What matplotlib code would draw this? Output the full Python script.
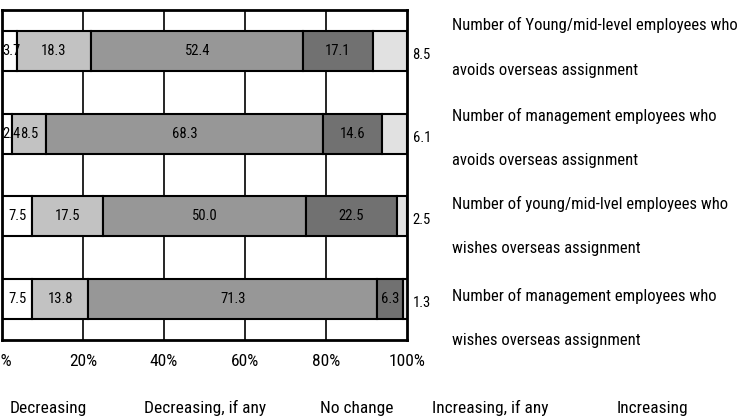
import matplotlib
matplotlib.use('Agg')
from matplotlib import pyplot as plt
from matplotlib import font_manager

# prefer a narrow sans face when one is installed
installed = {f.name for f in font_manager.fontManager.ttflist}
narrow = [n for n in ['Liberation Sans Narrow', 'Arial Narrow', 'Roboto Condensed',
                      'Open Sans Condensed', 'DejaVu Sans Condensed'] if n in installed]
plt.rcParams['font.family'] = narrow + ['DejaVu Sans']
plt.rcParams['font.stretch'] = 'condensed'

categories = [
    ('Number of Young/mid-level employees who', 'avoids overseas assignment'),
    ('Number of management employees who', 'avoids overseas assignment'),
    ('Number of young/mid-lvel employees who', 'wishes overseas assignment'),
    ('Number of management employees who', 'wishes overseas assignment'),
]
series_names = ['Decreasing', 'Decreasing, if any', 'No change', 'Increasing, if any', 'Increasing']
decreasing = [3.7, 2.4, 7.5, 7.5]
decreasing_if_any = [18.3, 8.5, 17.5, 13.8]
no_change = [52.4, 68.3, 50.0, 71.3]
increasing_if_any = [17.1, 14.6, 22.5, 6.3]
increasing = [8.5, 6.1, 2.5, 1.3]
tick_labels = ['0%', '20%', '40%', '60%', '80%', '100%']

colors = ['#ffffff', '#c2c2c2', '#979797', '#717171', '#e1e1e1']
W, H = 741, 419

fig = plt.figure(figsize=(W / 100, H / 100), dpi=100)
ax = fig.add_axes([2 / W, 1 - 340 / H, 405 / W, 330 / H])

series = [decreasing, decreasing_if_any, no_change, increasing_if_any, increasing]
ypos = list(range(len(categories)))
left = [0.0] * len(categories)
for i, vals in enumerate(series):
    ax.barh(ypos, vals, left=left, height=0.485, color=colors[i],
            edgecolor='black', linewidth=1.5, zorder=3)
    for y, v, l in zip(ypos, vals, left):
        label = f'{v:.1f}'
        if i == len(series) - 1:
            # last segment is labelled outside the bar
            ax.annotate(label, (100, y), xytext=(4, -3), textcoords='offset points',
                        ha='left', va='center', fontsize=10.5, annotation_clip=False)
        else:
            # keep labels of thin first segments off the left edge
            ax.text(max(l + v / 2, 2.3), y, label, ha='center', va='center',
                    fontsize=10.5, zorder=5)
    left = [l + v for l, v in zip(left, vals)]

ax.set_xlim(0, 100)
ax.set_ylim(len(categories) - 0.5, -0.5)
ax.set_xticks([0, 20, 40, 60, 80, 100])
ax.set_xticklabels(tick_labels, fontsize=12.5)
ax.tick_params(axis='x', length=0, pad=10)
ax.set_yticks([])
for x in [20, 40, 60, 80]:
    ax.axvline(x, color='black', linewidth=1.2, zorder=1)
for s in ax.spines.values():
    s.set_linewidth(2)
    s.set_zorder(4)

# category descriptions on the right, two lines each
line_y = [25, 70, 116, 160, 204, 248, 296, 340]
lines = [t for pair in categories for t in pair]
for t, y in zip(lines, line_y):
    fig.text(452 / W, 1 - y / H, t, ha='left', va='center', fontsize=12)

# series names along the bottom
legend_x = [48, 205, 357, 490, 652]
for name, x in zip(series_names, legend_x):
    fig.text(x / W, 1 - 408 / H, name, ha='center', va='center', fontsize=12.5)

fig.savefig('out.png', dpi=100)
